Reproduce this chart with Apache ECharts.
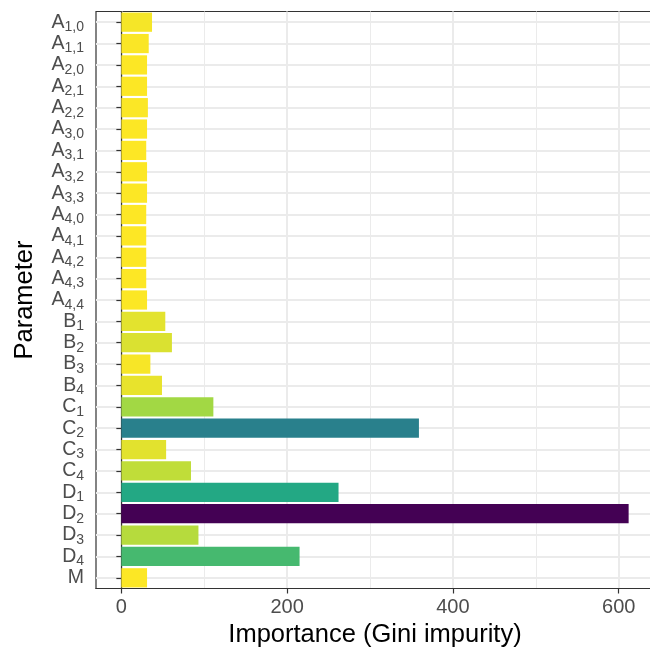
<!DOCTYPE html>
<html>
<head>
<meta charset="utf-8">
<script src="https://cdn.jsdelivr.net/npm/echarts@6/dist/echarts.min.js"></script>
<style>
  html, body { margin: 0; padding: 0; background: #ffffff; }
  #chart { width: 650px; height: 650px; }
</style>
</head>
<body>
<div id="chart"></div>
<script>
// Parameter names: letter, then "_" and the subscript
const params = [
  'A_1,0', 'A_1,1', 'A_2,0', 'A_2,1', 'A_2,2', 'A_3,0', 'A_3,1', 'A_3,2', 'A_3,3',
  'A_4,0', 'A_4,1', 'A_4,2', 'A_4,3', 'A_4,4',
  'B_1', 'B_2', 'B_3', 'B_4',
  'C_1', 'C_2', 'C_3', 'C_4',
  'D_1', 'D_2', 'D_3', 'D_4',
  'M'
];

// Importance (mean decrease in Gini impurity)
const importance = [
  37, 33, 31, 31, 32, 31, 30, 31, 31,
  30, 30, 30, 30, 31,
  53, 61, 35, 49,
  111, 359, 54, 84,
  262, 612, 93, 215,
  31
];

const xMajorTicks = [0, 200, 400, 600];
const xMinorTicks = [100, 300, 500];

// six-step viridis, reversed: low importance yellow, high importance purple
const viridisRev = ['#FDE725', '#7AD151', '#22A884', '#2A788E', '#414487', '#440154'];

const vMin = Math.min(...importance);
const vMax = Math.max(...importance);
// 5% padding on each side of the range 0..max
const pad = 0.05 * vMax;
// row positions (one per parameter) for the horizontal grid lines
const rowIndex = params.map((_, i) => i);

const font = '"Liberation Sans", Arial, Helvetica, sans-serif';
const gridColor = '#EBEBEB';
const inkColor = '#333333';

const chart = echarts.init(document.getElementById('chart'));
chart.setOption({
  animation: false,
  backgroundColor: '#ffffff',
  textStyle: { fontFamily: font },
  grid: {
    left: 96, right: -4, top: 11.5, bottom: 61.5,
    show: true, borderColor: inkColor, borderWidth: 1.2,
    containLabel: false,
    outerBoundsMode: 'none'
  },
  visualMap: {
    show: false, type: 'continuous', dimension: 0, seriesIndex: 0,
    min: vMin, max: vMax,
    inRange: { color: viridisRev }
  },
  xAxis: [{
    type: 'value', min: -pad, max: vMax + pad,
    name: 'Importance (Gini impurity)',
    nameLocation: 'middle', nameGap: 33,
    nameTextStyle: { fontSize: 25.5, color: '#000000', fontFamily: font },
    axisLine: { show: true, onZero: false, lineStyle: { color: inkColor, width: 1.2 } },
    axisTick: { show: true, length: 5, customValues: xMajorTicks, lineStyle: { color: inkColor, width: 1.2 } },
    axisLabel: { customValues: xMajorTicks, fontSize: 20, color: '#4D4D4D', margin: 9, fontFamily: font },
    splitLine: { show: true, lineStyle: { color: gridColor, width: 2 } }
  }, {
    type: 'value', min: -pad, max: vMax + pad, position: 'bottom',
    axisLine: { show: false },
    axisTick: { show: false, customValues: xMinorTicks },
    axisLabel: { show: false, customValues: xMinorTicks },
    splitLine: { show: true, lineStyle: { color: gridColor, width: 1 } }
  }],
  yAxis: [{
    type: 'category', data: params, inverse: true,
    name: 'Parameter', nameLocation: 'middle', nameGap: 58, nameRotate: 90,
    nameTextStyle: { fontSize: 25.5, color: '#000000', fontFamily: font },
    axisLine: { show: true, lineStyle: { color: inkColor, width: 1.2 } },
    axisTick: { show: true, alignWithLabel: true, length: 5, lineStyle: { color: inkColor, width: 1.2 } },
    splitLine: { show: false },
    axisLabel: {
      interval: 0, margin: 12, fontSize: 19.5, color: '#4D4D4D', lineHeight: 24, fontFamily: font,
      formatter: function (name) {
        const parts = name.split('_');
        return parts.length > 1 ? parts[0] + '{s|' + parts[1] + '}' : parts[0];
      },
      rich: {
        s: { fontSize: 14, lineHeight: 14, verticalAlign: 'bottom', color: '#4D4D4D', fontFamily: font }
      }
    }
  }, {
    // same rows as the category axis, used only for the grid lines through each row
    type: 'value', min: -0.5, max: params.length - 0.5, inverse: true, position: 'left',
    axisLine: { show: false },
    axisTick: { show: false, customValues: rowIndex },
    axisLabel: { show: false, customValues: rowIndex },
    splitLine: { show: true, lineStyle: { color: gridColor, width: 2 } }
  }],
  series: [{
    type: 'bar',
    xAxisIndex: 0,
    yAxisIndex: 0,
    barWidth: '90%',
    data: importance.map((v, i) => [v, params[i]]),
    encode: { x: 0, y: 1 }
  }]
});
</script>
</body>
</html>
